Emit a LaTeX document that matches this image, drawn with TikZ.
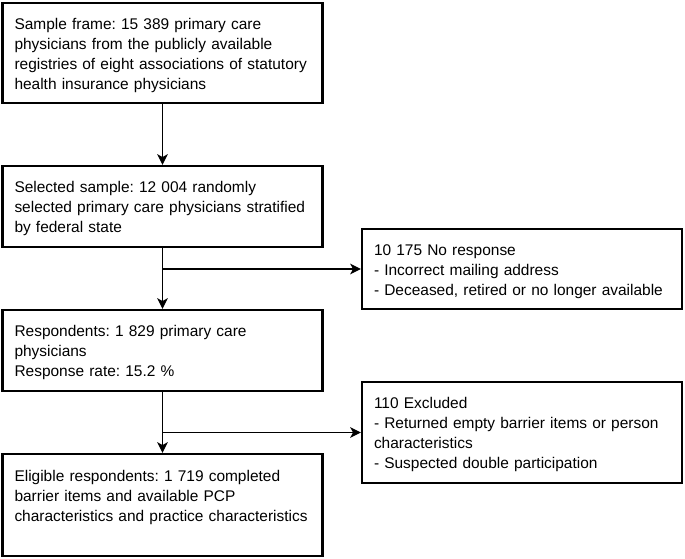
\documentclass[tikz,border=0pt]{standalone}
\usepackage{fontspec}
\setmainfont{Liberation Sans}
\usetikzlibrary{arrows.meta}
\frenchspacing

\tikzset{
  stagebox/.style={draw, line width=1.8pt, rectangle, text width=222pt, inner xsep=9pt,
    inner ysep=0pt, align=left, minimum width=240pt, font=\fontsize{11.6}{15}\selectfont,
    execute at begin node={\rule{0pt}{12pt}}, execute at end node={\rule[-3pt]{0pt}{3pt}}},
  flowarrow/.style={-{Stealth[length=8pt,width=8pt,inset=2.2pt]}, line width=0.8pt}
}

\begin{document}
\begin{tikzpicture}[x=0.75pt, y=-0.75pt]

          \useasboundingbox (0,0) rectangle (685,558);

          \node[stagebox, minimum height=75pt] (frame) at (162.5,53)
            {Sample frame: 15 389 primary care\\physicians from the publicly available\\registries of eight associations of statutory\\health insurance physicians};
          \node[stagebox, minimum height=60.75pt] (selected) at (162.5,206.5)
            {Selected sample: 12 004 randomly\\selected primary care physicians stratified\\by federal state};
          \node[stagebox, minimum height=60pt] (noresp) at (522,269)
            {10 175 No response\\- Incorrect mailing address\\- Deceased, retired or no longer available};
          \node[stagebox, minimum height=60.75pt] (respond) at (162.5,350.5)
            {Respondents: 1 829 primary care\\physicians\\Response rate: 15.2 \%};
          \node[stagebox, minimum height=75.75pt] (excluded) at (522,432.5)
            {110 Excluded\\- Returned empty barrier items or person\\characteristics\\- Suspected double participation};
          \node[stagebox, minimum height=76.5pt] (eligible) at (162.5,505)
            {Eligible respondents: 1 719 completed\\barrier items and available PCP\\characteristics and practice characteristics\\\mbox{}};

          \draw[flowarrow] (frame) -- (selected);
          \draw[flowarrow] (selected) -- (respond);
          \draw[flowarrow] (respond) -- (eligible);

          \foreach \from/\to in {selected/noresp, respond/excluded}{
            \draw[flowarrow] (\from.south |- \to.west) -- (\to.west);
          }

        \end{tikzpicture}
\end{document}
